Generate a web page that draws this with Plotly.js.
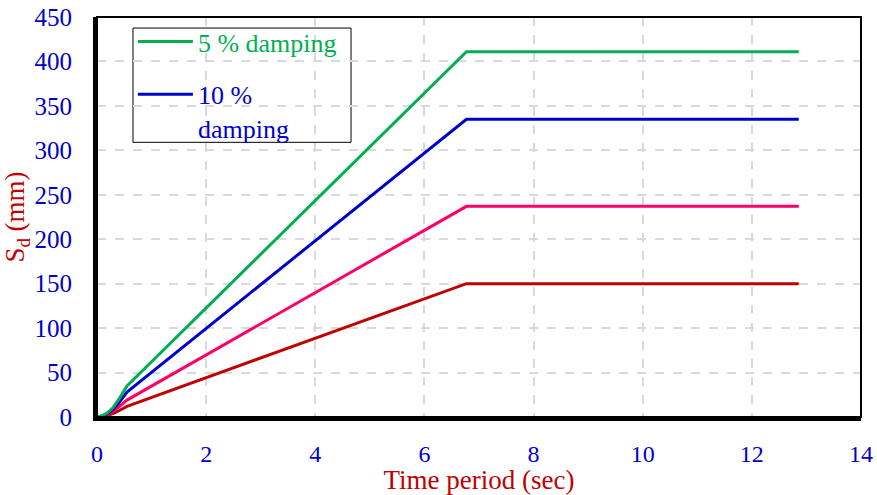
<!DOCTYPE html>
<html>
<head>
<meta charset="utf-8">
<script src="https://cdn.plot.ly/plotly-3.0.1.min.js"></script>
<style>html,body{margin:0;padding:0;background:#fff;}#chart{width:877px;height:495px;}</style>
</head>
<body>
<div id="chart"></div>
<script>
const period = [0, 0.1, 0.2, 0.3, 0.4, 0.55, 6.77, 12.86];
const sd5 = [0, 1.5, 5, 11, 20, 35, 411, 411];
const sd10 = [0, 1.2, 4, 9, 16, 28, 335, 335];
const sdPink = [0, 0.8, 3, 6.5, 11.5, 19, 237, 237];
const sdRed = [0, 0.5, 2, 4, 7, 12, 150, 150];
const names = ['5 % damping', '10 %<br>damping'];
const xTicks = [0, 2, 4, 6, 8, 10, 12, 14];
const yTicks = [0, 50, 100, 150, 200, 250, 300, 350, 400, 450];

const font = 'Liberation Serif';
const traces = [
  {x: period, y: sdRed, mode: 'lines', line: {color: '#c00000', width: 3}, showlegend: false},
  {x: period, y: sdPink, mode: 'lines', line: {color: '#ff0066', width: 3}, showlegend: false},
  {x: period, y: sd10, mode: 'lines', line: {color: '#0000cc', width: 3},
   name: '<span style="color:#0000cc">' + names[1] + '</span>', legendgroup: 'b', legendrank: 2},
  {x: period, y: sd5, mode: 'lines', line: {color: '#00b050', width: 3},
   name: '<span style="color:#00b050">' + names[0] + '</span>', legendgroup: 'a', legendrank: 1}
];

const layout = {
  width: 877, height: 495,
  margin: {l: 97, r: 16, t: 17, b: 78},
  paper_bgcolor: '#fff', plot_bgcolor: '#fff',
  font: {family: font, size: 24, color: '#0000cc'},
  xaxis: {
    range: [0, 14], tickvals: xTicks, ticktext: xTicks.map(String),
    showgrid: true, gridcolor: '#d9d9d9', gridwidth: 2, griddash: 'dash',
    showline: true, linecolor: '#000', linewidth: 4, zeroline: false,
    ticks: '', ticklabelstandoff: 12,
    tickfont: {family: font, size: 24, color: '#0000cc'},
    title: {text: 'Time period (sec)', font: {family: font, size: 27, color: '#c00000'}, standoff: 1}
  },
  yaxis: {
    range: [0, 450], tickvals: yTicks, ticktext: yTicks.map(String),
    showgrid: true, gridcolor: '#d9d9d9', gridwidth: 2, griddash: 'dash',
    showline: true, linecolor: '#000', linewidth: 4, zeroline: false,
    ticks: '', ticklabelstandoff: 16,
    tickfont: {family: font, size: 25, color: '#0000cc'},
    title: {text: 'S<sub>d</sub> (mm)', font: {family: font, size: 27, color: '#c00000'}, standoff: 5}
  },
  shapes: [
    {type: 'rect', xref: 'paper', yref: 'paper', x0: 0.0471, x1: 0.3325, y0: 0.6867, y1: 0.9724,
     line: {color: '#000', width: 1}, fillcolor: '#fff', layer: 'between'},
    {type: 'rect', xref: 'paper', yref: 'paper', x0: 0, x1: 1, y0: 0, y1: 1,
     line: {color: '#000', width: 2}, layer: 'above'}
  ],
  showlegend: true,
  legend: {
    x: 0.047, y: 0.9975, xanchor: 'left', yanchor: 'top',
    bgcolor: 'rgba(0,0,0,0)', borderwidth: 0,
    font: {family: font, size: 26, color: '#000'},
    traceorder: 'grouped', tracegroupgap: 16, valign: 'top', itemwidth: 55
  }
};
Plotly.newPlot('chart', traces, layout, {displayModeBar: false, staticPlot: true});
</script>
</body>
</html>
